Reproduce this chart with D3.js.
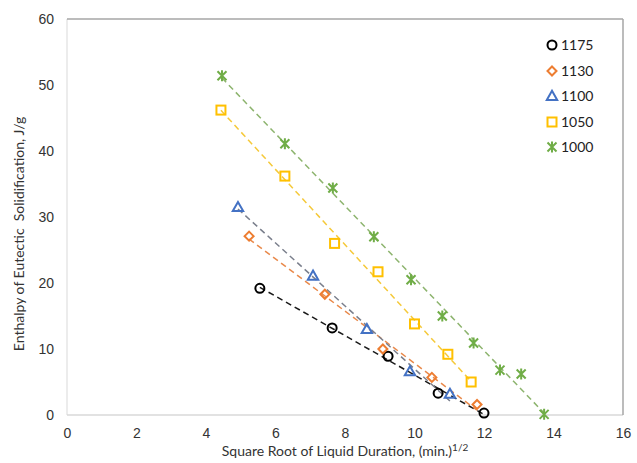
<!DOCTYPE html>
<html>
<head>
<meta charset="utf-8">
<script src="https://cdn.jsdelivr.net/npm/d3@7"></script>
<style>
  html, body { margin: 0; padding: 0; background: #fff; }
  svg { display: block; font-family: Lato, "Open Sans", "Liberation Sans", sans-serif; }
</style>
</head>
<body>
<svg id="chart" width="637" height="463"></svg>
<script>
// Square root of liquid duration (min^1/2) and enthalpy (J/g) per pouring temperature
const s1175 = { name: "1175", x: [5.55, 7.63, 9.24, 10.68, 12.0], y: [19.2, 13.2, 8.9, 3.3, 0.3] };
const s1130 = { name: "1130", x: [5.24, 7.42, 9.09, 10.5, 11.8], y: [27.1, 18.3, 10.0, 5.7, 1.6] };
const s1100 = { name: "1100", x: [4.92, 7.08, 8.63, 9.87, 11.02], y: [31.5, 21.1, 13.0, 6.6, 3.2] };
const s1050 = { name: "1050", x: [4.43, 6.27, 7.7, 8.95, 10.0, 10.96, 11.63], y: [46.2, 36.2, 26.0, 21.7, 13.8, 9.2, 5.0] };
const s1000 = { name: "1000", x: [4.46, 6.27, 7.65, 8.83, 9.9, 10.8, 11.7, 12.46, 13.07, 13.73], y: [51.4, 41.1, 34.4, 27.0, 20.5, 15.0, 10.9, 6.8, 6.2, 0.1] };

const xTicks = [0, 2, 4, 6, 8, 10, 12, 14, 16];
const yTicks = [0, 10, 20, 30, 40, 50, 60];

const seriesList = [s1175, s1130, s1100, s1050, s1000];
const markerStyle = {
  "1175": { shape: "circle",   color: "#000000", line: "#1a1a1a" },
  "1130": { shape: "diamond",  color: "#ED7D31", line: "#E98A4C" },
  "1100": { shape: "triangle", color: "#4472C4", line: "#7a7f8c" },
  "1050": { shape: "square",   color: "#FFC000", line: "#F5C93A" },
  "1000": { shape: "star",     color: "#70AD47", line: "#8DB46E" }
};

const svg = d3.select("#chart");
const plotL = 67, plotR = 623, plotT = 19, plotB = 415;

const x = d3.scaleLinear().domain([0, 16]).range([plotL, plotR]);
const y = d3.scaleLinear().domain([0, 60]).range([plotB, plotT]);

// plot frame
svg.append("line").attr("x1", plotL).attr("x2", plotL).attr("y1", plotT).attr("y2", plotB)
  .attr("stroke", "#d9d9d9").attr("stroke-width", 1);
svg.append("line").attr("x1", plotL).attr("x2", plotR).attr("y1", plotB).attr("y2", plotB)
  .attr("stroke", "#d9d9d9").attr("stroke-width", 1.5);
svg.append("line").attr("x1", plotL).attr("x2", plotR).attr("y1", plotT).attr("y2", plotT)
  .attr("stroke", "#a6a6a6").attr("stroke-width", 1.5);
svg.append("line").attr("x1", plotR).attr("x2", plotR).attr("y1", plotT).attr("y2", plotB)
  .attr("stroke", "#a6a6a6").attr("stroke-width", 1.5);

// axes (labels only)
const xAxis = d3.axisBottom(x).tickValues(xTicks).tickSize(0).tickPadding(13).tickFormat(d3.format("d"));
const gx = svg.append("g").attr("transform", `translate(0,${plotB})`).call(xAxis);
gx.select(".domain").remove();
gx.selectAll("text").attr("font-size", 14).attr("fill", "#333");

const yAxis = d3.axisLeft(y).tickValues(yTicks).tickSize(0).tickPadding(13).tickFormat(d3.format("d"));
const gy = svg.append("g").attr("transform", `translate(${plotL},0)`).call(yAxis);
gy.select(".domain").remove();
gy.selectAll("text").attr("font-size", 14).attr("fill", "#333");

// axis titles
const xt = svg.append("text").attr("x", 345).attr("y", 456).attr("text-anchor", "middle")
  .attr("font-size", 14).attr("fill", "#333");
xt.append("tspan").text("Square Root of Liquid Duration, (min.)");
xt.append("tspan").attr("dy", -5).attr("font-size", 10).text("1/2");

svg.append("text").attr("transform", "translate(24,234) rotate(-90)").attr("text-anchor", "middle")
  .attr("font-size", 14).attr("fill", "#333").attr("xml:space", "preserve")
  .text("Enthalpy of Eutectic  Solidification, J/g");

// least-squares trend line for each series
function fit(s) {
  const n = s.x.length;
  const mx = d3.mean(s.x), my = d3.mean(s.y);
  let sxy = 0, sxx = 0;
  for (let i = 0; i < n; i++) { sxy += (s.x[i] - mx) * (s.y[i] - my); sxx += (s.x[i] - mx) ** 2; }
  const b = sxy / sxx, a = my - b * mx;
  return [d3.min(s.x), d3.max(s.x)].map(v => [v, a + b * v]);
}

const trendG = svg.append("g");
seriesList.forEach(s => {
  const pts = fit(s);
  trendG.append("line")
    .attr("x1", x(pts[0][0])).attr("y1", y(pts[0][1]))
    .attr("x2", x(pts[1][0])).attr("y2", y(pts[1][1]))
    .attr("stroke", markerStyle[s.name].line).attr("stroke-width", 1.5)
    .attr("stroke-dasharray", "6,4");
});

function drawMarker(g, shape, color, cx, cy) {
  const sw = 2;
  if (shape === "circle") {
    g.append("circle").attr("cx", cx).attr("cy", cy).attr("r", 4.5)
      .attr("fill", "none").attr("stroke", color).attr("stroke-width", sw);
  } else if (shape === "diamond") {
    const r = 4.5;
    g.append("path").attr("d", `M${cx},${cy - r}L${cx + r},${cy}L${cx},${cy + r}L${cx - r},${cy}Z`)
      .attr("fill", "none").attr("stroke", color).attr("stroke-width", sw);
  } else if (shape === "triangle") {
    const r = 5.2;
    g.append("path").attr("d", `M${cx},${cy - r}L${cx + r},${cy + r * 0.75}L${cx - r},${cy + r * 0.75}Z`)
      .attr("fill", "none").attr("stroke", color).attr("stroke-width", sw);
  } else if (shape === "square") {
    const r = 4.5;
    g.append("rect").attr("x", cx - r).attr("y", cy - r).attr("width", 2 * r).attr("height", 2 * r)
      .attr("fill", "none").attr("stroke", color).attr("stroke-width", sw);
  } else if (shape === "star") {
    const r = 4.5;
    g.append("path")
      .attr("d", `M${cx - r},${cy - r}L${cx + r},${cy + r}M${cx - r},${cy + r}L${cx + r},${cy - r}M${cx},${cy - r - 1}L${cx},${cy + r + 1}`)
      .attr("fill", "none").attr("stroke", color).attr("stroke-width", sw);
  }
}

const markG = svg.append("g");
seriesList.forEach(s => {
  const st = markerStyle[s.name];
  s.x.forEach((v, i) => drawMarker(markG, st.shape, st.color, x(v), y(s.y[i])));
});

// legend
const legendG = svg.append("g");
const legendY = [45, 71, 96, 122, 147];
seriesList.forEach((s, i) => {
  const st = markerStyle[s.name];
  drawMarker(legendG, st.shape, st.color, 552, legendY[i]);
  legendG.append("text").attr("x", 561).attr("y", legendY[i]).attr("dy", "0.35em")
    .attr("font-size", 14).attr("fill", "#222").text(s.name);
});
</script>
</body>
</html>
